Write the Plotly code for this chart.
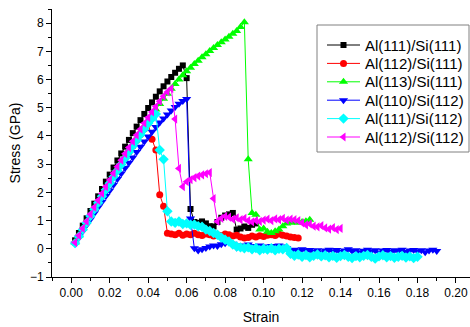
import plotly.graph_objects as go

# Shared strain grid (simulation steps)
STRAIN = [0.002, 0.004, 0.006, 0.008, 0.010, 0.012, 0.014, 0.016, 0.018, 0.020,
          0.022, 0.024, 0.026, 0.028, 0.030, 0.032, 0.034, 0.036, 0.038, 0.040,
          0.042, 0.044, 0.046, 0.048, 0.050, 0.052, 0.054, 0.056, 0.058, 0.060,
          0.062, 0.064, 0.066, 0.068, 0.070, 0.072, 0.074, 0.076, 0.078, 0.080,
          0.082, 0.084, 0.086, 0.088, 0.090, 0.092, 0.094, 0.096, 0.098, 0.100,
          0.102, 0.104, 0.106, 0.108, 0.110, 0.112, 0.114, 0.116, 0.118, 0.120,
          0.122, 0.124, 0.126, 0.128, 0.130, 0.132, 0.134, 0.136, 0.138, 0.140,
          0.142, 0.144, 0.146, 0.148, 0.150, 0.152, 0.154, 0.156, 0.158, 0.160,
          0.162, 0.164, 0.166, 0.168, 0.170, 0.172, 0.174, 0.176, 0.178, 0.180,
          0.182, 0.184, 0.186, 0.188, 0.190]

al111_si111 = [0.30, 0.56, 0.82, 1.08, 1.34, 1.60, 1.86, 2.12, 2.38, 2.63,
               2.88, 3.13, 3.38, 3.62, 3.86, 4.10, 4.33, 4.56, 4.78, 4.99,
               5.19, 5.39, 5.58, 5.76, 5.93, 6.09, 6.24, 6.38, 6.50, 6.05,
               1.41, 0.95, 0.92, 0.97, 0.90, 0.80, 0.79, 0.95, 1.10, 1.18,
               1.22, 1.27, 0.68, 0.72, 0.79, 0.74, 0.85, 0.90]

al112_si111 = [0.21, 0.45, 0.69, 0.93, 1.17, 1.41, 1.64, 1.87, 2.10, 2.33,
               2.56, 2.78, 3.00, 3.22, 3.43, 3.64, 3.85, 4.05, 4.25, 4.44,
               3.88, 3.50, 1.92, 1.51,
               0.55, 0.52, 0.50, 0.55, 0.48, 0.52, 0.50, 0.55, 0.50, 0.47,
               0.52, 0.50, 0.45, 0.50, 0.47, 0.52, 0.50, 0.45, 0.48, 0.42,
               0.38, 0.40, 0.45, 0.42, 0.46, 0.44, 0.48, 0.50, 0.47, 0.52,
               0.48, 0.45, 0.42, 0.40, 0.38]

al113_si111 = [0.22, 0.47, 0.72, 0.96, 1.20, 1.44, 1.68, 1.92, 2.15, 2.38,
               2.61, 2.84, 3.06, 3.28, 3.50, 3.72, 3.93, 4.14, 4.35, 4.55,
               4.75, 4.94, 5.13, 5.32, 5.50, 5.67, 5.84, 6.00, 6.15, 6.29,
               6.42, 6.55, 6.67, 6.79, 6.90, 7.01, 7.12, 7.22, 7.32, 7.42,
               7.52, 7.62, 7.72, 7.86, 8.03,
               3.17, 1.27, 1.21, 0.68, 0.72, 0.60, 0.56, 0.62, 0.68, 0.80,
               0.90, 0.92, 0.95, 0.92, 0.95, 0.98, 1.03]

al110_si112 = [0.18, 0.40, 0.62, 0.84, 1.05, 1.26, 1.47, 1.67, 1.87, 2.07,
               2.27, 2.47, 2.67, 2.86, 3.05, 3.24, 3.43, 3.62, 3.80, 3.98,
               4.15, 4.32, 4.48, 4.62, 4.76, 4.90, 5.03, 5.14, 5.24, 5.31,
               1.07, 0.02, -0.06, -0.02, 0.03, 0.08, 0.12, 0.10, 0.16, 0.20,
               0.24, 0.18, 0.05, 0.12, 0.08, 0.15, 0.10, 0.05, 0.12, 0.08,
               0.03, 0.10, 0.06, 0.12, 0.08, 0.02, -0.05, -0.03, -0.08, -0.02,
               -0.06, -0.04, -0.10, -0.05, -0.12, -0.06, -0.03, -0.09, -0.04, -0.11,
               -0.06, -0.02, -0.08, -0.05, -0.12, -0.07, -0.03, -0.09, -0.05, -0.13,
               -0.06, -0.04, -0.10, -0.05, -0.08, -0.03, -0.11, -0.06, -0.04, -0.09,
               -0.05, -0.12, -0.06, -0.03, -0.08]

al111_si112 = [0.20, 0.44, 0.68, 0.92, 1.16, 1.40, 1.63, 1.86, 2.09, 2.32,
               2.55, 2.77, 2.99, 3.21, 3.43, 3.64, 3.85, 4.05, 4.25, 4.45,
               4.62, 4.78,
               3.50, 3.17, 1.33, 0.97, 0.92, 0.97, 0.88, 0.90, 0.85, 0.86,
               0.80, 0.78, 0.68, 0.63, 0.56, 0.50, 0.40, 0.32, 0.26, 0.15,
               0.08, 0.05, 0.02, 0.05, -0.02, 0.03, -0.05, 0.00, -0.03, 0.02,
               -0.05, 0.00, -0.02, 0.03,
               -0.18, -0.25, -0.20, -0.28, -0.22, -0.30, -0.25, -0.20, -0.27, -0.23,
               -0.30, -0.25, -0.32, -0.26, -0.22, -0.28, -0.33, -0.26, -0.30, -0.25,
               -0.22, -0.28, -0.35, -0.27, -0.23, -0.30, -0.26, -0.32, -0.28, -0.25,
               -0.31, -0.27, -0.33, -0.28]

al112_si112 = [0.22, 0.47, 0.72, 0.97, 1.22, 1.47, 1.72, 1.96, 2.20, 2.44,
               2.68, 2.91, 3.14, 3.37, 3.59, 3.81, 4.03, 4.24, 4.45, 4.65,
               4.85, 5.04, 5.23, 5.41, 5.56, 5.68,
               4.60, 2.85, 2.20, 2.38, 2.45, 2.52, 2.58, 2.62, 2.66, 2.70,
               1.78, 0.97, 1.08, 1.15, 1.12, 1.05, 1.10, 1.03, 1.08, 1.00,
               0.95, 1.00, 0.97, 1.02, 1.05, 1.00, 1.06, 1.03, 1.08, 1.02,
               1.05, 1.03, 1.00, 0.92, 0.85, 0.88, 0.80, 0.78, 0.82, 0.74,
               0.70, 0.75, 0.68, 0.72]

series_names = ["Al(111)/Si(111)", "Al(112)/Si(111)", "Al(113)/Si(111)",
                "Al(110)/Si(112)", "Al(111)/Si(112)", "Al(112)/Si(112)"]
series_values = [al111_si111, al112_si111, al113_si111,
                 al110_si112, al111_si112, al112_si112]

x_tick_vals = [0.00, 0.02, 0.04, 0.06, 0.08, 0.10, 0.12, 0.14, 0.16, 0.18, 0.20]
x_tick_text = ["0.00", "0.02", "0.04", "0.06", "0.08", "0.10", "0.12", "0.14",
               "0.16", "0.18", "0.20"]
y_tick_vals = [-1, 0, 1, 2, 3, 4, 5, 6, 7, 8]

colors = ["#000000", "#FF0000", "#00FF00", "#0000FF", "#00FFFF", "#FF00FF"]
symbols = ["square", "circle", "triangle-up", "triangle-down", "diamond", "triangle-left"]
sizes = [6, 7, 8, 8, 8, 8]

W, H = 470, 327
ML, MR, MT, MB = 52, 0, 9, 50
PW, PH = W - ML - MR, H - MT - MB

def fx(px):  # pixel -> paper x
    return (px - ML) / PW

def fy(py):  # pixel -> paper y
    return (H - MB - py) / PH

fig = go.Figure()
for name, vals, c, s, sz in zip(series_names, series_values, colors, symbols, sizes):
    fig.add_trace(go.Scatter(
        x=STRAIN[:len(vals)], y=vals, name=name, mode="lines+markers",
        line=dict(color=c, width=1),
        marker=dict(symbol=s, size=sz, color=c, line=dict(width=0)),
        showlegend=False,
    ))

font_family = "Liberation Sans, Arial, sans-serif"

# Legend drawn as a boxed key (layout only)
leg_left, leg_right, leg_top, leg_bottom = 317, 469, 25, 152
leg_rows = [45, 63.4, 81.8, 100.2, 118.6, 137]
sym_x0, sym_x1, text_x = 327, 360, 363
shapes = [dict(type="rect", xref="paper", yref="paper",
               x0=fx(leg_left), x1=fx(leg_right), y0=fy(leg_bottom), y1=fy(leg_top),
               line=dict(color="#808080", width=1), fillcolor="rgba(0,0,0,0)",
               layer="above")]
annotations = []
for name, c, s, sz, ry in zip(series_names, colors, symbols, sizes, leg_rows):
    fig.add_trace(go.Scatter(
        x=[fx(sym_x0), fx((sym_x0 + sym_x1) / 2), fx(sym_x1)], y=[fy(ry)] * 3,
        xaxis="x2", yaxis="y2", mode="lines", line=dict(color=c, width=1),
        showlegend=False, hoverinfo="skip"))
    fig.add_trace(go.Scatter(
        x=[fx((sym_x0 + sym_x1) / 2)], y=[fy(ry)],
        xaxis="x2", yaxis="y2", mode="markers",
        marker=dict(symbol=s, size=sz, color=c, line=dict(width=0)),
        showlegend=False, hoverinfo="skip", cliponaxis=False))
    annotations.append(dict(text=name, xref="paper", yref="paper",
                            x=fx(text_x), y=fy(ry), xanchor="left", yanchor="middle",
                            showarrow=False,
                            font=dict(size=15, family=font_family, color="black")))

fig.update_layout(
    width=W, height=H,
    margin=dict(l=ML, r=MR, t=MT, b=MB),
    paper_bgcolor="white", plot_bgcolor="white",
    font=dict(family=font_family, color="black", size=12),
    showlegend=False,
    shapes=shapes,
    annotations=annotations,
    hovermode=False,
    xaxis2=dict(overlaying="x", range=[0, 1], visible=False, fixedrange=True),
    yaxis2=dict(overlaying="y", range=[0, 1], visible=False, fixedrange=True),
)
fig.update_layout(xaxis=dict(
    range=[-0.01, 0.2073], tickvals=x_tick_vals, ticktext=x_tick_text,
    showline=True, linecolor="black", linewidth=1, mirror=False,
    ticks="outside", ticklen=5, tickcolor="black", tickwidth=1,
    minor=dict(ticks="outside", ticklen=3, dtick=0.01, tick0=0, tickcolor="black"),
    showgrid=False, zeroline=False,
    tickfont=dict(size=12, family=font_family, color="black"),
    title=dict(text="Strain", standoff=12,
               font=dict(size=14, family=font_family, color="black")),
))
fig.update_layout(yaxis=dict(
    range=[-1, 8.5], tickvals=y_tick_vals,
    showline=True, linecolor="black", linewidth=1, mirror=False,
    ticks="outside", ticklen=5, tickcolor="black", tickwidth=1,
    minor=dict(ticks="outside", ticklen=3, dtick=0.5, tick0=0, tickcolor="black"),
    showgrid=False, zeroline=False,
    tickfont=dict(size=12, family=font_family, color="black"),
    title=dict(text="Stress (GPa)", standoff=6,
               font=dict(size=14, family=font_family, color="black")),
))

fig.write_html("out.html", config={"displayModeBar": False},
               post_script="document.body.style.margin='0px';")
